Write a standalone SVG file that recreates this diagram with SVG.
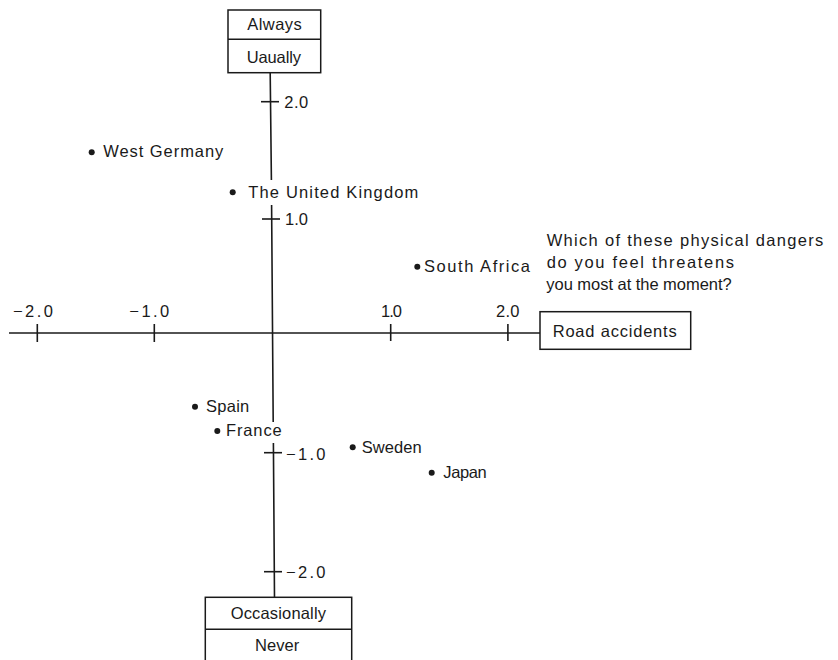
<svg xmlns="http://www.w3.org/2000/svg" width="838" height="660" viewBox="0 0 838 660">
<style>
text{font-family:"Liberation Sans",Arial,sans-serif;font-size:16.5px;fill:#1a1a1a}
.box{fill:#fff;stroke:#1a1a1a;stroke-width:1.5}
.ax{stroke:#1a1a1a;stroke-width:1.6;fill:none}
.dot{fill:#1a1a1a}
</style>
<rect width="838" height="660" fill="#fff"/>
<g id="connectors">
<line class="ax" x1="9" y1="333" x2="540" y2="333"/>
<line class="ax" x1="37.3" y1="324" x2="37.3" y2="342"/>
<line class="ax" x1="154.3" y1="324" x2="154.3" y2="342"/>
<line class="ax" x1="390.7" y1="324" x2="390.7" y2="341"/>
<line class="ax" x1="507.9" y1="324" x2="507.9" y2="341"/>
<path class="ax" d="M270.2 73 L271.4 180 M271.6 205 L273.2 422 M273.4 443 L274.5 597.3"/>
<line class="ax" x1="261" y1="101.7" x2="279" y2="101.7"/>
<line class="ax" x1="262" y1="219" x2="280" y2="219"/>
<line class="ax" x1="264" y1="452.7" x2="282" y2="452.7"/>
<line class="ax" x1="264" y1="571.7" x2="282" y2="571.7"/>
</g>
<g id="axis-labels">
<text x="13" y="316.7" textLength="40" lengthAdjust="spacing">−2.0</text>
<text x="129.3" y="316.7" textLength="40" lengthAdjust="spacing">−1.0</text>
<text x="381" y="316.5" textLength="21" lengthAdjust="spacing">1.0</text>
<text x="496" y="316.5" textLength="23.5" lengthAdjust="spacing">2.0</text>
<text x="284.3" y="108.3" textLength="24" lengthAdjust="spacing">2.0</text>
<text x="285" y="224.5" textLength="23" lengthAdjust="spacing">1.0</text>
<text x="286" y="459.5" textLength="39.5" lengthAdjust="spacing">−1.0</text>
<text x="286" y="577.5" textLength="39.5" lengthAdjust="spacing">−2.0</text>
</g>
<g id="node-top">
<rect class="box" x="228" y="10" width="92.7" height="62.7"/>
<line class="ax" x1="228" y1="39.3" x2="320.7" y2="39.3"/>
<text x="247.3" y="30" textLength="54.4" lengthAdjust="spacing">Always</text>
<text x="246.7" y="62.5" textLength="54.3" lengthAdjust="spacing">Uaually</text>
</g>
<g id="node-bottom">
<rect class="box" x="205.3" y="597.3" width="146.4" height="75"/>
<line class="ax" x1="205.3" y1="629.3" x2="351.7" y2="629.3"/>
<text x="230.7" y="619" textLength="95.3" lengthAdjust="spacing">Occasionally</text>
<text x="255" y="651" textLength="44.3" lengthAdjust="spacing">Never</text>
</g>
<g id="node-right">
<rect class="box" x="540" y="311.7" width="150.7" height="37.6"/>
<text x="552.7" y="336.5" textLength="124" lengthAdjust="spacing">Road accidents</text>
</g>
<g id="question">
<text x="546.7" y="246" textLength="276.6" lengthAdjust="spacing">Which of these physical dangers</text>
<text x="546.7" y="267.5" textLength="187.3" lengthAdjust="spacing">do you feel threatens</text>
<text x="546.3" y="289.5" textLength="185.4" lengthAdjust="spacing">you most at the moment?</text>
</g>
<g id="west-germany"><circle class="dot" cx="91.7" cy="152.3" r="3"/><text x="103.3" y="157" textLength="120" lengthAdjust="spacing">West Germany</text></g>
<g id="united-kingdom"><circle class="dot" cx="232.7" cy="192.3" r="3"/><text x="248.3" y="198.3" textLength="170" lengthAdjust="spacing">The United Kingdom</text></g>
<g id="south-africa"><circle class="dot" cx="417.3" cy="266.7" r="3"/><text x="424" y="272" textLength="106" lengthAdjust="spacing">South Africa</text></g>
<g id="spain"><circle class="dot" cx="195" cy="406.7" r="3"/><text x="206" y="411.7" textLength="43.3" lengthAdjust="spacing">Spain</text></g>
<g id="france"><circle class="dot" cx="217.3" cy="431" r="3"/><text x="226" y="436" textLength="55.7" lengthAdjust="spacing">France</text></g>
<g id="sweden"><circle class="dot" cx="352.7" cy="447.3" r="3"/><text x="361.7" y="452.5" textLength="60" lengthAdjust="spacing">Sweden</text></g>
<g id="japan"><circle class="dot" cx="431.7" cy="472.7" r="3"/><text x="443.3" y="477.5" textLength="43.4" lengthAdjust="spacing">Japan</text></g>
</svg>
